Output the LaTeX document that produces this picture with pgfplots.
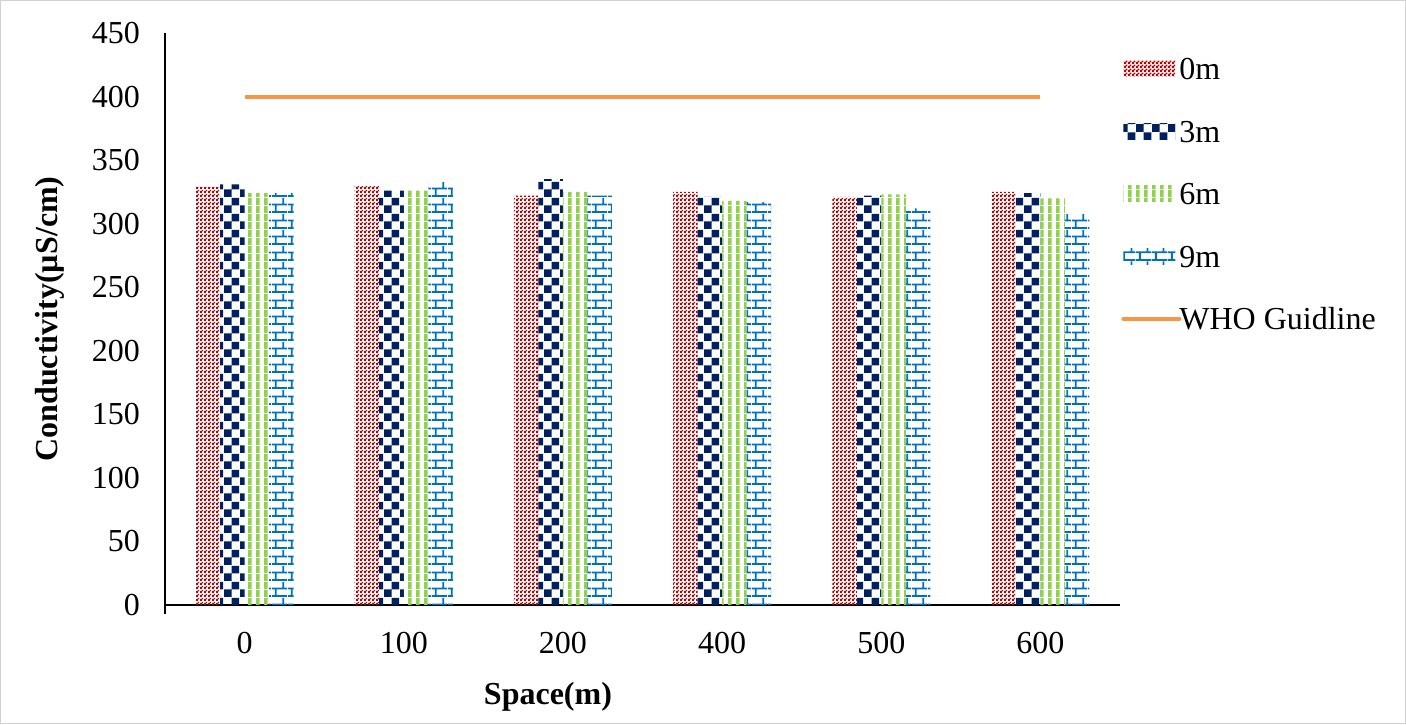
\documentclass[border=0pt]{standalone}
\usepackage{fontspec}
\setmainfont{Liberation Serif}
\usepackage{pgfplots}
\pgfplotsset{compat=1.18}
\usetikzlibrary{patterns.meta}

\definecolor{cred}{HTML}{C00000}
\definecolor{cnavy}{HTML}{002060}
\definecolor{cgreen}{HTML}{92D050}
\definecolor{cblue}{HTML}{0070C0}
\definecolor{corange}{HTML}{F79646}

\pgfdeclarepattern{
  name=redcheck, type=uncolored,
  bottom left={\pgfpoint{0pt}{0pt}}, top right={\pgfpoint{2pt}{2pt}},
  tile size={\pgfpoint{2pt}{2pt}},
  code={
    \pgfpathrectangle{\pgfpoint{0pt}{0pt}}{\pgfpoint{1.2pt}{1.2pt}}
    \pgfpathrectangle{\pgfpoint{1pt}{1pt}}{\pgfpoint{1pt}{1pt}}
    \pgfusepath{fill}
  }
}
\pgfdeclarepattern{
  name=navycheck, type=uncolored,
  bottom left={\pgfpoint{0pt}{0pt}}, top right={\pgfpoint{8pt}{8pt}},
  tile size={\pgfpoint{8pt}{8pt}},
  code={
    \pgfpathrectangle{\pgfpoint{0pt}{0pt}}{\pgfpoint{4pt}{4pt}}
    \pgfpathrectangle{\pgfpoint{4pt}{4pt}}{\pgfpoint{4pt}{4pt}}
    \pgfusepath{fill}
  }
}
\pgfdeclarepattern{
  name=greenstripe, type=uncolored,
  bottom left={\pgfpoint{0pt}{0pt}}, top right={\pgfpoint{4pt}{4pt}},
  tile size={\pgfpoint{4pt}{4pt}},
  code={
    \pgfpathrectangle{\pgfpoint{0pt}{0pt}}{\pgfpoint{2pt}{4pt}}
    \pgfusepath{fill}
  }
}
\pgfdeclarepattern{
  name=bricks, type=uncolored,
  bottom left={\pgfpoint{0pt}{0pt}}, top right={\pgfpoint{8pt}{8pt}},
  tile size={\pgfpoint{8pt}{8pt}},
  code={
    \pgfsetlinewidth{1pt}
    \pgfpathmoveto{\pgfpoint{0pt}{0.5pt}}\pgfpathlineto{\pgfpoint{8pt}{0.5pt}}
    \pgfpathmoveto{\pgfpoint{0pt}{4.5pt}}\pgfpathlineto{\pgfpoint{8pt}{4.5pt}}
    \pgfpathmoveto{\pgfpoint{2pt}{0.5pt}}\pgfpathlineto{\pgfpoint{2pt}{4.5pt}}
    \pgfpathmoveto{\pgfpoint{6pt}{4.5pt}}\pgfpathlineto{\pgfpoint{6pt}{8pt}}
    \pgfpathmoveto{\pgfpoint{6pt}{0pt}}\pgfpathlineto{\pgfpoint{6pt}{0.5pt}}
    \pgfusepath{stroke}
  }
}

\pgfplotsset{
  swatch/.style={legend image code/.code={\fill[##1,draw=none] (0pt,-4pt) rectangle (26pt,4pt);}},
  lineswatch/.style={legend image code/.code={\draw[##1,line width=2pt,line cap=round] (0pt,0pt) -- (28pt,0pt);}},
}

\begin{document}
\begin{tikzpicture}
\path[use as bounding box] (-82.5pt,-59.5pt) rectangle (620.5pt,302.5pt);
\draw[color=gray!35,line width=0.6pt] (-82.2pt,-59.2pt) rectangle (620.2pt,302.2pt);
\begin{axis}[
  at={(0pt,0pt)}, anchor=south west,
  scale only axis, width=477.5pt, height=286pt,
  xmin=-0.5, xmax=5.5, ymin=0, ymax=450,
  axis lines*=left,
  axis line style={black, line width=0.8pt},
  xtick={0,1,2,3,4,5}, xticklabels={0,100,200,400,500,600},
  ytick={0,50,...,450},
  major tick length=0pt,
  extra x ticks={-0.5}, extra x tick labels={},
  extra x tick style={major tick length=4.5pt, tick align=outside, tick style={black, line width=0.8pt}},
  tick label style={font=\fontsize{16}{19}\selectfont},
  /pgf/number format/assume math mode=true,
  yticklabel style={xshift=-9pt},
  xticklabel style={yshift=-10pt},
  xlabel={\textbf{Space(m)}},
  ylabel={\textbf{Conductivity(µS/cm)}},
  label style={font=\fontsize{16}{19}\selectfont},
  xlabel style={at={(axis description cs:0.401,-0.1608)}, anchor=center},
  ylabel style={at={(axis description cs:-0.1204,0.5)}, rotate=0, anchor=center},
  legend cell align=left,
  legend style={draw=none, fill=none, at={(1.001,0.963)}, anchor=north west,
    inner sep=0pt, font=\fontsize{16}{19}\selectfont, row sep=17.25pt,
    nodes={inner sep=1.5pt, text height=11pt, text depth=0pt},
    /tikz/every odd column/.style={column sep=-2.5pt}},
]
\addplot[ybar, bar width=12.25pt, bar shift=-18.375pt, draw=none, pattern=redcheck, pattern color=cred, swatch]
  coordinates {(0,329) (1,330) (2,322) (3,325) (4,321) (5,325)};
\addlegendentry{0m}
\addplot[ybar, bar width=12.25pt, bar shift=-6.125pt, draw=none, pattern=navycheck, pattern color=cnavy, swatch]
  coordinates {(0,331) (1,326) (2,335) (3,321) (4,322) (5,324)};
\addlegendentry{3m}
\addplot[ybar, bar width=12.25pt, bar shift=6.125pt, draw=none, pattern=greenstripe, pattern color=cgreen, swatch]
  coordinates {(0,324) (1,326) (2,325) (3,318) (4,323) (5,320)};
\addlegendentry{6m}
\addplot[ybar, bar width=12.25pt, bar shift=18.375pt, draw=none, pattern=bricks, pattern color=cblue, swatch]
  coordinates {(0,324) (1,333) (2,322) (3,317) (4,312) (5,308)};
\addlegendentry{9m}
\addplot[sharp plot, color=corange, line width=2pt, mark=none, lineswatch]
  coordinates {(0,400) (1,400) (2,400) (3,400) (4,400) (5,400)};
\addlegendentry{WHO Guidline}
\end{axis}
\end{tikzpicture}
\end{document}
